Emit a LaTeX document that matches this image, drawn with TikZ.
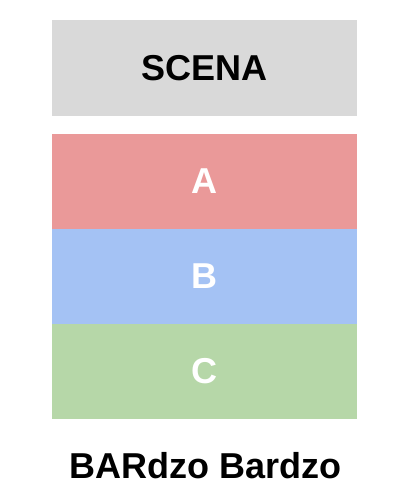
\documentclass[tikz,border=0pt]{standalone}
\usepackage{fontspec}
\setmainfont{Liberation Sans}
\usepackage{tikz}
\usetikzlibrary{positioning}

\definecolor{scenagray}{HTML}{D9D9D9}
\definecolor{sectora}{HTML}{EA9999}
\definecolor{sectorb}{HTML}{A4C2F4}
\definecolor{sectorc}{HTML}{B6D7A8}

\tikzset{
  block/.style={minimum width=305pt, minimum height=95pt, inner sep=0pt, outer sep=0pt},
  sector/.style={block, text=white}
}

\begin{document}
\begin{tikzpicture}[x=1pt, y=-1pt, node distance=0pt, font=\bfseries\fontsize{36}{42}\selectfont]
    \useasboundingbox (0,0) rectangle (413,497);

    % Stage on top
    \node [block, fill=scenagray, minimum height=96pt] (scena) at (204.5,68) {SCENA};

    % Sectors, stacked below the stage
    \node [sector, fill=sectora, below=18pt of scena] (secA) {A};
    \node [sector, fill=sectorb, below=of secA] (secB) {B};
    \node [sector, fill=sectorc, below=of secB] (secC) {C};

    % Caption
    \node [anchor=base, inner sep=0pt] (bar) at (205.5,478) {BARdzo Bardzo};

\end{tikzpicture}
\end{document}
